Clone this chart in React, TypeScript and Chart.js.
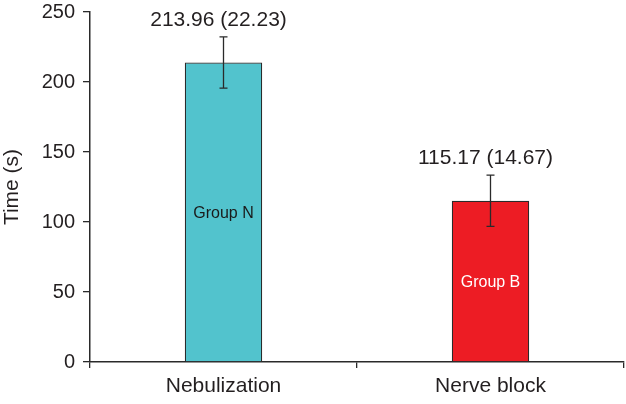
import React, { useEffect, useRef } from "react";
import { Chart, registerables } from "chart.js";

Chart.register(...registerables);

const categories = ["Nebulization", "Nerve block"];
const means = [213.96, 115.17];
const sds = [22.23, 14.67];
const errorBars = [18.3, 18.3];
const groupLabels = ["Group N", "Group B"];
const barColors = ["#52C3CD", "#ED1C24"];
const groupLabelColors = ["#1a1a1a", "#ffffff"];
const yTicks = [0, 50, 100, 150, 200, 250];

const FONT = "'Liberation Sans', Arial, sans-serif";
const INK = "#231f20";

const annotPlugin = {
  id: "annot",
  afterDatasetsDraw(chart: any) {
    const ctx = chart.ctx;
    const meta = chart.getDatasetMeta(0);
    const y = chart.scales.y;
    ctx.save();
    meta.data.forEach((bar: any, i: number) => {
      const x = bar.x;
      const top = y.getPixelForValue(means[i] + errorBars[i]);
      const bot = y.getPixelForValue(means[i] - errorBars[i]);
      ctx.strokeStyle = "#2a2a2a";
      ctx.lineWidth = 1.3;
      ctx.beginPath();
      ctx.moveTo(x, top);
      ctx.lineTo(x, bot);
      ctx.moveTo(x - 4, top);
      ctx.lineTo(x + 4, top);
      ctx.moveTo(x - 4, bot);
      ctx.lineTo(x + 4, bot);
      ctx.stroke();
      ctx.fillStyle = INK;
      ctx.font = `21px ${FONT}`;
      ctx.textAlign = "center";
      ctx.textBaseline = "middle";
      ctx.fillText(`${means[i].toFixed(2)} (${sds[i].toFixed(2)})`, x - 5, top - 17);
      ctx.fillStyle = groupLabelColors[i];
      ctx.font = `16px ${FONT}`;
      const labelY = y.getPixelForValue(means[i] / 2) + 1.5;
      ctx.fillText(groupLabels[i], x, labelY);
    });
    ctx.restore();
  },
};

export default function App() {
  const ref = useRef<HTMLCanvasElement>(null);
  useEffect(() => {
    document.body.style.margin = "0";
    const chart = new Chart(ref.current!, {
      type: "bar",
      data: {
        labels: categories,
        datasets: [
          {
            data: means,
            backgroundColor: barColors,
            borderColor: "#2a2a2a",
            borderWidth: 1.2,
            barPercentage: 0.29,
            categoryPercentage: 1,
          },
        ],
      },
      options: {
        responsive: false,
        animation: false,
        layout: { padding: { top: 0, right: 2, left: 0, bottom: 0 } },
        plugins: { legend: { display: false }, tooltip: { enabled: false } },
        scales: {
          x: {
            offset: true,
            grid: {
              offset: true,
              drawOnChartArea: false,
              tickLength: 6,
              color: "#2a2a2a",
              lineWidth: 1.3,
            },
            border: { color: "#2a2a2a", width: 1.5 },
            ticks: { color: INK, font: { size: 21, family: FONT }, padding: 6 },
            afterFit: (s: any) => {
              s.height = 42;
            },
          },
          y: {
            min: 0,
            max: 250,
            afterBuildTicks: (s: any) => {
              s.ticks = yTicks.map((v) => ({ value: v }));
            },
            grid: {
              drawOnChartArea: false,
              tickLength: 7,
              color: "#2a2a2a",
              lineWidth: 1.3,
            },
            border: { color: "#2a2a2a", width: 1.5 },
            ticks: { color: INK, font: { size: 20, family: FONT }, padding: 8 },
            title: {
              display: true,
              text: "Time (s)",
              color: INK,
              font: { size: 21, family: FONT },
              padding: { top: 0, bottom: 0 },
            },
            afterFit: (s: any) => {
              s.width = 90;
              s.paddingTop = 12;
              s.paddingBottom = 0;
            },
          },
        },
      },
      plugins: [annotPlugin],
    });
    return () => chart.destroy();
  }, []);
  return <canvas ref={ref} width={626} height={404} />;
}
